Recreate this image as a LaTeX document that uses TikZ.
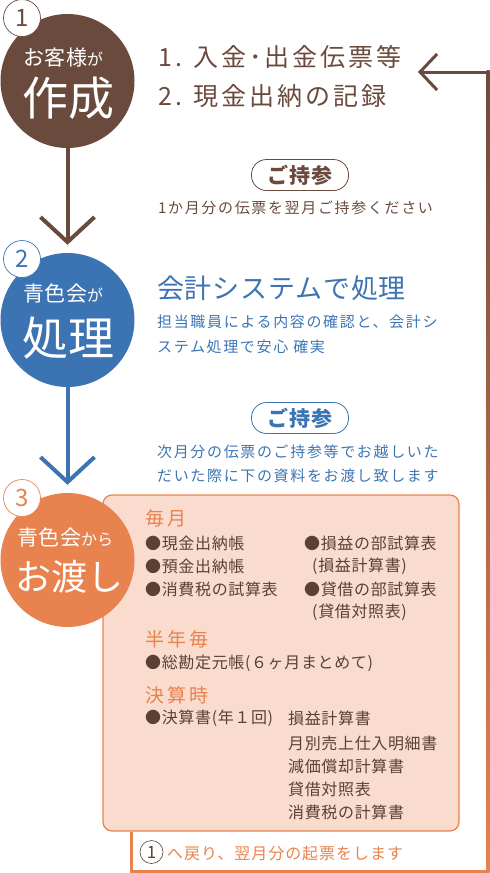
\documentclass[tikz,border=0pt]{standalone}
\usepackage{fontspec}
\setmainfont{Noto Sans CJK JP}
\usetikzlibrary{arrows.meta}

\definecolor{brownc}{HTML}{6B4A3E}
\definecolor{bluec}{HTML}{3C74B3}
\definecolor{orangec}{HTML}{E8824F}
\definecolor{peachc}{HTML}{F9DCCD}
\definecolor{boxtext}{HTML}{5B4034}

% size and tracking in one go
\newcommand\jpfont[2]{\fontsize{#1}{#1}\selectfont\addfontfeatures{LetterSpace=#2}}

\begin{document}
\begin{tikzpicture}[x=1pt, y=-1pt,
        % --- Shape styles ---
        bigcircle/.style={circle, minimum size=134pt, inner sep=0pt},
        badge/.style={
            circle, draw, fill=white, line width=0.7pt,
            minimum size=37pt, inner sep=0pt, font=\jpfont{24}{0}
        },
        pill/.style={
            draw, fill=white, rounded corners=15pt, line width=0.8pt,
            minimum width=97pt, minimum height=31pt, inner sep=0pt,
            font=\bfseries\jpfont{21}{4}
        },
        infobox/.style={
            draw=orangec, fill=peachc, line width=1.2pt, rounded corners=9pt,
            minimum width=356pt, minimum height=336pt
        },
        % --- Text styles ---
        line/.style={anchor=west, inner sep=0pt},
        small/.style={line, font=\jpfont{15}{11}},
        item/.style={line, text=boxtext, font=\jpfont{16}{4}},
        heading/.style={line, text=orangec, font=\jpfont{19}{17}},
        % --- Arrow styles ---
        flow/.style={line width=4pt, shorten >=8pt, -{Straight Barb[length=25pt, width=54pt]}},
    ]

    \useasboundingbox (0,0) rectangle (490,873);

    % ===== Box of documents =====
    \node[infobox] (box) at (281, 663) {};

    % ===== Circles =====
    \node[bigcircle, fill=brownc]  (c1) at (67.5, 81)  {};
    \node[bigcircle, fill=bluec]   (c2) at (67.5, 320) {};
    \node[bigcircle, fill=orangec] (c3) at (67.5, 560) {};

    \node[badge, draw=brownc, text=brownc]   (n1) at (22, 18)  {1};
    \node[badge, draw=bluec, text=bluec]     (n2) at (22, 259) {2};
    \node[badge, draw=orangec, text=orangec] (n3) at (22, 498) {3};

    % ===== Circle texts =====
    \node[line, text=white] (t1a) at (23, 58)  {\jpfont{21}{2}お客様\jpfont{16}{0}が};
    \node[line, text=white] (t1b) at (22, 98)  {\jpfont{46}{0}作成};
    \node[line, text=white] (t2a) at (23, 294) {\jpfont{21}{2}青色会\jpfont{16}{0}が};
    \node[line, text=white] (t2b) at (22, 338) {\jpfont{46}{0}処理};
    \node[line, text=white] (t3a) at (17, 538) {\jpfont{21}{2}青色会\jpfont{16}{0}から};
    \node[line, text=white] (t3b) at (15, 577) {\jpfont{36}{0}お渡し};

    % ===== Flow arrows =====
    \draw[flow, brownc] (c1.south) -- (c2.north);
    \draw[flow, bluec]  (c2.south) -- (c3.north);

    % ===== Step 1 texts =====
    \node[line, text=brownc, font=\jpfont{25}{12}] (s1a) at (158, 57) {1. 入金･出金伝票等};
    \node[line, text=brownc, font=\jpfont{25}{12}] (s1b) at (158, 96) {2. 現金出納の記録};
    \node[pill, draw=brownc, text=brownc] (p1) at (300, 175) {ご持参};
    \node[small, text=brownc] (s1c) at (158, 208) {1か月分の伝票を翌月ご持参ください};

    % ===== Step 2 texts =====
    \node[line, text=bluec, font=\jpfont{27}{3}] (s2a) at (157, 288) {会計システムで処理};
    \node[small, text=bluec] (s2b) at (157, 322) {担当職員による内容の確認と、会計シ};
    \node[small, text=bluec] (s2c) at (157, 347) {ステム処理で安心\ 確実};
    \node[pill, draw=bluec, text=bluec] (p2) at (300, 418) {ご持参};
    \node[small, text=bluec] (s2d) at (157, 452) {次月分の伝票のご持参等でお越しいた};
    \node[small, text=bluec] (s2e) at (157, 476) {だいた際に下の資料をお渡し致します};

    % ===== Box contents =====
    \node[heading] (h1) at (145, 518) {毎月};
    \node[item] at (145, 543) {●現金出納帳};
    \node[item] at (145, 566) {●預金出納帳};
    \node[item] at (145, 589) {●消費税の試算表};
    \node[item] at (304, 543) {●損益の部試算表};
    \node[item] at (312, 566) {(損益計算書)};
    \node[item] at (304, 589) {●貸借の部試算表};
    \node[item] at (312, 612) {(貸借対照表)};

    \node[heading] (h2) at (145, 639) {半年毎};
    \node[item] at (145, 663) {●総勘定元帳(６ヶ月まとめて)};

    \node[heading] (h3) at (145, 695) {決算時};
    \node[item] at (145, 718) {●決算書(年１回)};
    \node[item] at (288, 718) {損益計算書};
    \node[item] at (288, 743) {月別売上仕入明細書};
    \node[item] at (288, 766) {減価償却計算書};
    \node[item] at (288, 789) {貸借対照表};
    \node[item] at (288, 812) {消費税の計算書};

    % ===== Return path =====
    \node[circle, draw=boxtext, line width=0.6pt, minimum size=23pt, inner sep=0pt,
          text=boxtext, font=\jpfont{17}{0}] (r1) at (151.5, 852) {1};
    \node[line, text=orangec, font=\jpfont{16}{6}] (rt) at (167, 853) {へ戻り、翌月分の起票をします};

    \coordinate (fb1) at (131, 871);
    \coordinate (fb2) at (488, 871);
    \coordinate (fb3) at (488, 72);
    \coordinate (fbtip) at (418, 72);

    \draw[orangec, line width=3pt] (box.south -| fb1) -- (fb1) -- (fb2);
    \shade[top color=brownc, bottom color=orangec] (486.5, 70.5) rectangle (489.5, 872.5);
    \draw[brownc, line width=3pt, -{Straight Barb[length=17pt, width=36pt]}] (fb3) -- (fbtip);

\end{tikzpicture}
\end{document}
